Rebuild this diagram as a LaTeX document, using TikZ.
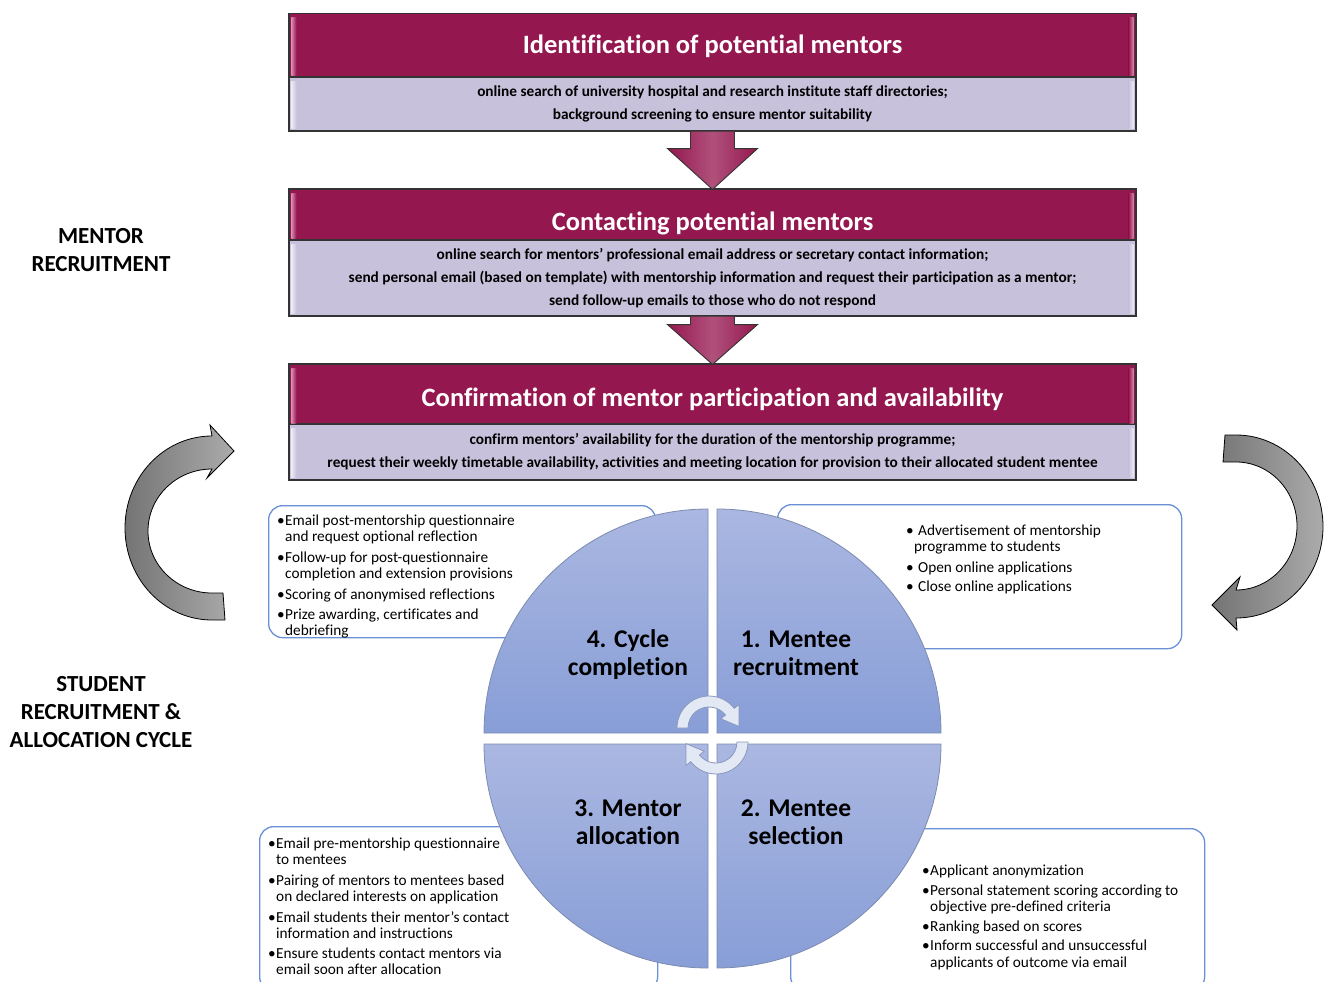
\documentclass[tikz,border=0pt]{standalone}
\usepackage{fontspec}
\setmainfont{Carlito}[Ligatures=NoCommon]
\usetikzlibrary{calc}
\definecolor{maroonc}{HTML}{95174F}
\definecolor{hlpink}{HTML}{D98AB0}
\definecolor{lav}{HTML}{C8C1DB}
\definecolor{lavhl}{HTML}{EEEAF5}
\definecolor{qtop}{HTML}{AAB7E1}
\definecolor{qbot}{HTML}{889ED7}
\definecolor{qline}{HTML}{7D8BB0}
\definecolor{bboxc}{HTML}{6990D6}
\definecolor{gdark}{HTML}{747474}
\definecolor{glight}{HTML}{ABABAB}
\definecolor{cafill}{HTML}{E3E8F5}
\definecolor{caline}{HTML}{8A98BE}
\newcommand{\bul}[1]{\makebox[#1][l]{•}}
\newcommand{\ph}{\vphantom{Aly}}
\begin{document}
\begin{tikzpicture}[x=1pt,y=-1pt,
  hdr/.style={draw=black!80, line width=1.2pt, fill=maroonc, text=white,
    font=\fontsize{26.5}{30}\selectfont\bfseries, minimum width=847pt, inner sep=0pt, text depth=0pt},
  bodyb/.style={draw=black!80, line width=1.2pt, fill=lav, align=center,
    font=\fontsize{15.3}{23}\selectfont\bfseries, minimum width=847pt, inner sep=0pt},
  blockarrow/.style={draw=black!80, line width=0.9pt, left color=maroonc, right color=maroonc, middle color=maroonc!75!white},
  quad/.style={top color=qtop, bottom color=qbot, draw=qline, line width=0.8pt},
  qlabel/.style={font=\fontsize{25.5}{28}\selectfont\bfseries, align=center, inner sep=0pt},
  tbox/.style={draw=bboxc, line width=1.3pt, rounded corners=14pt, fill=white, inner sep=0pt, anchor=north west},
  lst/.style={font=\fontsize{15.3}{16}\selectfont, align=left, inner sep=0pt, anchor=north west},
  sidelabel/.style={font=\fontsize{23}{28}\selectfont\bfseries, align=center, inner sep=0pt},
  garrow/.style={left color=gdark, right color=glight, draw=black, line width=0.8pt},
  carrow/.style={fill=cafill, draw=caline, line width=0.8pt}]
\useasboundingbox (0,0) rectangle (1325,982);
\clip (0,0) rectangle (1325,982);

% side labels
\node[sidelabel] (ml) at (101,250.5) {MENTOR\\RECRUITMENT};
\node[sidelabel] (sl) at (101,712.5) {STUDENT\\RECRUITMENT \&\\ALLOCATION CYCLE};

% top boxes
\node[hdr, minimum height=63pt, text height=18pt] (h1) at (712.5,45) {Identification of potential mentors};
\node[bodyb, minimum height=54pt] (b1) at (712.5,104) {online search of university hospital and research institute staff directories;\\background screening to ensure mentor suitability};
\node[hdr, minimum height=51pt, text height=31pt] (h2) at (712.5,214.5) {Contacting potential mentors};
\node[bodyb, minimum height=76pt] (b2) at (712.5,278) {online search for mentors’ professional email address or secretary contact information;\\send personal email (based on template) with mentorship information and request their participation as a mentor;\\send follow-up emails to those who do not respond};
\node[hdr, minimum height=61pt, text height=23pt] (h3) at (712.5,394.5) {Confirmation of mentor participation and availability};
\node[bodyb, minimum height=56pt] (b3) at (712.5,452) {confirm mentors’ availability for the duration of the mentorship programme;\\request their weekly timetable availability, activities and meeting location for provision to their allocated student mentee};

\foreach \n in {h1,h2,h3}{
  \shade[left color=hlpink, right color=maroonc] ($(\n.north west)+(3,5)$) rectangle ($(\n.south west)+(8,-2)$);
  \shade[left color=maroonc, right color=hlpink] ($(\n.north east)+(-8,5)$) rectangle ($(\n.south east)+(-3,-2)$);
}
\foreach \n in {b1,b2,b3}{
  \shade[left color=lavhl, right color=lav] ($(\n.north west)+(3,5)$) rectangle ($(\n.south west)+(8,-3)$);
  \shade[left color=lav, right color=lavhl] ($(\n.north east)+(-8,5)$) rectangle ($(\n.south east)+(-3,-3)$);
}

% block arrows between boxes
\draw[blockarrow] ($(b1.south)+(-22,0)$) -- ($(b1.south)+(-22,17)$) -- ($(b1.south)+(-45,17)$) -- ($(h2.north)+(0,1)$) -- ($(b1.south)+(45,17)$) -- ($(b1.south)+(22,17)$) -- ($(b1.south)+(22,0)$);
\draw[blockarrow] ($(b2.south)+(-22,0)$) -- ($(b2.south)+(-22,8)$) -- ($(b2.south)+(-45,8)$) -- ($(h3.north)+(0,1)$) -- ($(b2.south)+(45,8)$) -- ($(b2.south)+(22,8)$) -- ($(b2.south)+(22,0)$);

% big grey curved arrows
\shade[garrow] (225,620) -- (212,620) arc[start angle=90,end angle=270,x radius=87,y radius=92] -- (210,425) -- (234,451) -- (207,478) -- (212,469) arc[start angle=270,end angle=90,x radius=64,y radius=62] -- (223,593) -- cycle;
\shade[garrow] (1225,435) -- (1236,435) arc[start angle=270,end angle=450,x radius=87,y radius=91.5] -- (1237,630) -- (1212,605) -- (1240,577) -- (1236,590) arc[start angle=90,end angle=-90,x radius=61,y radius=64] -- (1223,462) -- cycle;

% text boxes (behind quadrants)
\node[tbox, minimum width=387pt, minimum height=132pt] (tlbox) at (268,505) {};
\node[tbox, minimum width=404pt, minimum height=144pt] (trbox) at (777,504) {};
\node[tbox, minimum width=398pt, minimum height=164pt] (blbox) at (259,826) {};
\node[tbox, minimum width=414pt, minimum height=162pt] (brbox) at (790,828) {};

\node[lst] (tltext) at (277,514.5) {\bul{8pt}Email post-mentorship questionnaire\\\hspace*{8pt}and request optional reflection\\[5pt]\bul{8pt}Follow-up for post-questionnaire\\\hspace*{8pt}completion and extension provisions\\[5pt]\bul{8pt}Scoring of anonymised reflections\\[4pt]\bul{8pt}Prize awarding, certificates and\\\hspace*{8pt}debriefing};
\node[lst] (trtext) at (906,524.5) {\bul{12pt}Advertisement of mentorship\\\hspace*{8pt}programme to students\\[5pt]\bul{12pt}Open online applications\\[3pt]\bul{12pt}Close online applications};
\node[lst] (bltext) at (268,837.5) {\bul{8pt}Email pre-mentorship questionnaire\\\hspace*{8pt}to mentees\\[5pt]\bul{8pt}Pairing of mentors to mentees based\\\hspace*{8pt}on declared interests on application\\[5pt]\bul{8pt}Email students their mentor’s contact\\\hspace*{8pt}information and instructions\\[4pt]\bul{8pt}Ensure students contact mentors via\\\hspace*{8pt}email soon after allocation};
\node[lst, font=\fontsize{15.3}{16.5}\selectfont] (brtext) at (922,865) {\bul{8pt}Applicant anonymization\\[3pt]\bul{8pt}Personal statement scoring according to\\\hspace*{8pt}objective pre-defined criteria\\[3pt]\bul{8pt}Ranking based on scores\\[3pt]\bul{8pt}Inform successful and unsuccessful\\\hspace*{8pt}applicants of outcome via email};

% quadrants
\shade[quad] (708,733) -- (484,733) arc[start angle=180,end angle=270,radius=224] -- cycle;
\shade[quad] (717,733) -- (941,733) arc[start angle=0,end angle=-90,radius=224] -- cycle;
\shade[quad] (708,744) -- (484,744) arc[start angle=180,end angle=90,radius=224] -- cycle;
\shade[quad] (717,744) -- (941,744) arc[start angle=0,end angle=90,radius=224] -- cycle;

\node[qlabel] (q4) at (628,655) {\ph 4. Cycle\\\ph completion};
\node[qlabel] (q1) at (796,655) {\ph 1. Mentee\\\ph recruitment};
\node[qlabel] (q3) at (628,824) {\ph 3. Mentor\\\ph allocation};
\node[qlabel] (q2) at (796,824) {\ph 2. Mentee\\\ph selection};

% small circular arrows
\coordinate (ca) at (709,728);
\coordinate (cb) at (716,742);
\draw[carrow] ($(ca)+(180:32)$) arc[start angle=180,end angle=322,radius=32] -- ($(ca)+(322:38)$) -- ($(ca)+(357:30)$) -- ($(ca)+(322:15)$) -- ($(ca)+(322:21)$) arc[start angle=322,end angle=180,radius=21] -- cycle;
\draw[carrow] ($(cb)+(0:32)$) arc[start angle=0,end angle=142,radius=32] -- ($(cb)+(142:38)$) -- ($(cb)+(177:30)$) -- ($(cb)+(142:15)$) -- ($(cb)+(142:21)$) arc[start angle=142,end angle=0,radius=21] -- cycle;
\end{tikzpicture}
\end{document}
